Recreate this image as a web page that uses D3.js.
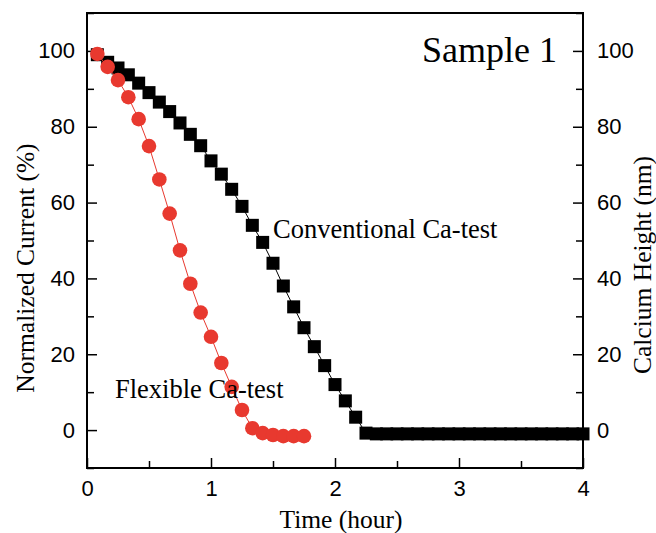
<!DOCTYPE html>
<html>
<head>
<meta charset="utf-8">
<script src="https://cdn.jsdelivr.net/npm/d3@7"></script>
<style>
  body { margin: 0; background: #fff; }
  svg text { fill: #000; }
</style>
</head>
<body>
<svg id="chart" width="656" height="533"></svg>
<script>
// time in minutes (sampled every 5 min)
const convTime = [5, 10, 15, 20, 25, 30, 35, 40, 45, 50, 55, 60, 65, 70, 75, 80, 85, 90, 95, 100,
  105, 110, 115, 120, 125, 130, 135, 140, 145, 150, 155, 160, 165, 170, 175, 180, 185, 190, 195,
  200, 205, 210, 215, 220, 225, 230, 235, 240];
const convValue = [99, 97, 95.5, 93.7, 91.5, 89, 86.5, 84, 81, 78, 75, 71, 67.5, 63.5, 59, 54,
  49.5, 44, 38, 32.5, 27, 22, 17, 12, 7.7, 3.4, -0.8, -1, -1, -1, -1, -1, -1, -1, -1, -1, -1, -1,
  -1, -1, -1, -1, -1, -1, -1, -1, -1, -1];

const flexTime = [5, 10, 15, 20, 25, 30, 35, 40, 45, 50, 55, 60, 65, 70, 75, 80, 85, 90, 95, 100, 105];
const flexValue = [99.2, 95.8, 92.3, 87.8, 82, 74.9, 66.1, 57.1, 47.4, 38.6, 31, 24.6, 17.7,
  11.4, 5.3, 0.5, -0.8, -1.3, -1.6, -1.6, -1.6];

const xTicks = [0, 1, 2, 3, 4];
const yTicks = [0, 20, 40, 60, 80, 100];

const svg = d3.select("#chart");
const margin = { left: 87, right: 73, top: 13, bottom: 65 };
const width = 656, height = 533;

const x = d3.scaleLinear().domain([0, 4]).range([margin.left, width - margin.right]);
const y = d3.scaleLinear().domain([-10, 110]).range([height - margin.bottom, margin.top]);
const yRight = d3.scaleLinear().domain([-10, 110]).range([height - margin.bottom, margin.top]);

const red = "#e8392f";
const tickFont = "Liberation Sans, Arial, sans-serif";
const serif = "Liberation Serif, Times New Roman, serif";

// axes, ticks inward
const styleAxis = (g) => {
  g.select(".domain").remove();
  g.selectAll(".tick line").attr("stroke", "#000").attr("stroke-width", 1.5);
  g.selectAll(".tick text").style("font-family", tickFont).style("font-size", "22px");
};

const xAxis = svg.append("g")
  .attr("transform", `translate(0,${height - margin.bottom})`)
  .call(d3.axisBottom(x).tickValues(d3.range(0, 4.01, 0.5)).tickSizeInner(-10).tickSizeOuter(0)
    .tickPadding(12).tickFormat((d) => xTicks.includes(d) ? d : ""))
  .call(styleAxis);
xAxis.selectAll(".tick line").attr("y2", (d) => Number.isInteger(d) ? -10 : -7);

const yAxis = svg.append("g")
  .attr("transform", `translate(${margin.left},0)`)
  .call(d3.axisLeft(y).tickValues(d3.range(-10, 111, 10)).tickSizeInner(-10).tickSizeOuter(0)
    .tickPadding(12).tickFormat((d) => yTicks.includes(d) ? d : ""))
  .call(styleAxis);
yAxis.selectAll(".tick line").attr("x2", (d) => yTicks.includes(d) ? 10 : 7);

const yAxisR = svg.append("g")
  .attr("transform", `translate(${width - margin.right},0)`)
  .call(d3.axisRight(yRight).tickValues(d3.range(-10, 111, 10)).tickSizeInner(-10).tickSizeOuter(0)
    .tickPadding(14).tickFormat((d) => yTicks.includes(d) ? d : ""))
  .call(styleAxis);
yAxisR.selectAll(".tick line").attr("x2", (d) => yTicks.includes(d) ? -10 : -7);

// frame
svg.append("rect")
  .attr("x", margin.left).attr("y", margin.top)
  .attr("width", width - margin.left - margin.right)
  .attr("height", height - margin.top - margin.bottom)
  .attr("fill", "none").attr("stroke", "#000").attr("stroke-width", 2);

const conv = convTime.map((t, i) => [t / 60, convValue[i]]);
const flex = flexTime.map((t, i) => [t / 60, flexValue[i]]);
const line = d3.line().x((d) => x(d[0])).y((d) => y(d[1]));

// conventional: black squares
svg.append("path").datum(conv).attr("d", line)
  .attr("fill", "none").attr("stroke", "#000").attr("stroke-width", 1);
svg.append("g").selectAll("rect").data(conv).join("rect")
  .attr("x", (d) => x(d[0]) - 6.5).attr("y", (d) => y(d[1]) - 6.5)
  .attr("width", 13).attr("height", 13).attr("fill", "#000");

// flexible: red circles
svg.append("path").datum(flex).attr("d", line)
  .attr("fill", "none").attr("stroke", red).attr("stroke-width", 1);
svg.append("g").selectAll("circle").data(flex).join("circle")
  .attr("cx", (d) => x(d[0])).attr("cy", (d) => y(d[1]))
  .attr("r", 7.3).attr("fill", red);

// labels
svg.append("text").attr("x", 557).attr("y", 62).attr("text-anchor", "end")
  .style("font-family", serif).style("font-size", "36px").text("Sample 1");
svg.append("text").attr("x", 273).attr("y", 238)
  .style("font-family", serif).style("font-size", "26.5px").text("Conventional Ca-test");
svg.append("text").attr("x", 115).attr("y", 398)
  .style("font-family", serif).style("font-size", "26.5px").text("Flexible Ca-test");

svg.append("text").attr("x", 341).attr("y", 528)
  .attr("text-anchor", "middle")
  .style("font-family", serif).style("font-size", "25.5px").text("Time (hour)");
svg.append("text").attr("transform", "translate(34,268) rotate(-90)")
  .attr("text-anchor", "middle")
  .style("font-family", serif).style("font-size", "25.5px").text("Normalized Current (%)");
svg.append("text").attr("transform", "translate(651,265) rotate(-90)")
  .attr("text-anchor", "middle")
  .style("font-family", serif).style("font-size", "25.5px").text("Calcium Height (nm)");
</script>
</body>
</html>
